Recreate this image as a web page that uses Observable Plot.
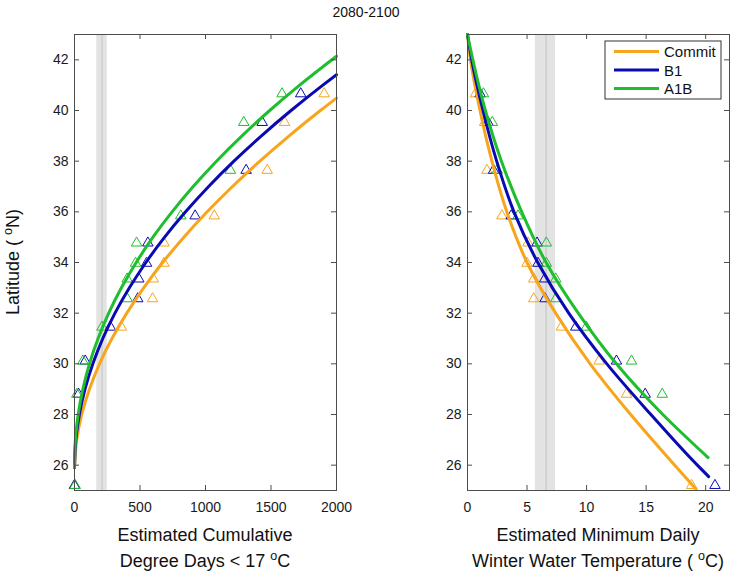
<!DOCTYPE html>
<html><head><meta charset="utf-8">
<script src="https://cdn.jsdelivr.net/npm/d3@7"></script>
<script src="https://cdn.jsdelivr.net/npm/@observablehq/plot@0.6"></script>
<style>
body{margin:0;background:#fff;}
#chart{position:relative;width:732px;height:576px;font-family:"Liberation Sans",Arial,sans-serif;}
#chart svg{position:absolute;top:0;overflow:visible;}
</style></head><body><div id="chart"></div>
<script>
// ---- data ----
const title = "2080-2100";
const scenarios = ["Commit", "B1", "A1B"];
const colors = ["#f8a51b", "#0a0ab2", "#1fbe2e"];
const latTicks = [26, 28, 30, 32, 34, 36, 38, 40, 42];
const latDomain = [25, 43];
const ddTicks = [0, 500, 1000, 1500, 2000];
const ddDomain = [0, 2000];
const tempTicks = [0, 5, 10, 15, 20];
const tempDomain = [0, 22];

// observed triangles
const latitudes = [40.66, 39.53, 37.64, 35.84, 34.77, 33.97, 33.35, 32.57, 31.45, 30.11, 28.8, 25.2];
const ddCommit = [1906, 1604, 1471, 1067, 683, 683, 602, 596, 358, null, null, 0];
const ddB1     = [1727, 1433, 1310, 921, 560, 550, 491, 483, 274, 82, 31, 0];
const ddA1B    = [1584, 1292, 1190, 811, 474, 466, 402, 402, 210, 64, 18, 5];
const tempCommit = [0.67, 1.44, 1.63, 2.89, 5.08, 4.99, 5.56, 5.56, 7.88, 11.05, 13.35, 18.82];
const tempB1     = [1.06, 1.72, 2.19, 3.67, 5.84, 5.92, 6.48, 6.51, 9.09, 12.51, 14.92, 20.78];
const tempA1B    = [1.34, 2.08, 2.50, 4.24, 6.62, 6.62, 7.41, 7.41, 9.98, 13.77, 16.35, null];

// fitted curves
const ddCurveLatCommit = [25.9, 27, 28, 29, 30, 31, 32, 33, 34, 35, 36, 37, 38, 39, 40, 40.49];
const ddCurveCommit    = [0, 17, 55, 114, 191, 286, 399, 528, 673, 835, 1013, 1206, 1415, 1639, 1877, 2000];
const ddCurveLatB1 = [25.9, 27, 28, 29, 30, 31, 32, 33, 34, 35, 36, 37, 38, 39, 40, 41, 41.41];
const ddCurveB1    = [0, 10, 37, 80, 140, 216, 309, 419, 545, 688, 848, 1024, 1217, 1427, 1653, 1896, 2000];
const ddCurveLatA1B = [25.9, 27, 28, 29, 30, 31, 32, 33, 34, 35, 36, 37, 38, 39, 40, 41, 42.14];
const ddCurveA1B    = [0, 7, 28, 64, 114, 180, 261, 358, 471, 599, 745, 906, 1084, 1279, 1490, 1719, 2000];

const tempCurveLatCommit = [43, 42, 40, 38, 36, 34, 32, 30, 28, 26, 25.05];
const tempCurveCommit    = [0, 0.25, 1.05, 2.05, 3.3, 5.0, 7.4, 10.3, 13.7, 17.4, 19.2];
const tempCurveLatB1 = [43, 42, 40, 38, 36, 34, 32, 30, 28, 26, 25.55];
const tempCurveB1    = [0, 0.35, 1.3, 2.45, 3.9, 5.9, 8.5, 11.7, 15.4, 19.3, 20.25];
const tempCurveLatA1B = [43, 42, 40, 38, 36, 34, 32, 30, 28, 26.3];
const tempCurveA1B    = [0, 0.45, 1.5, 2.85, 4.55, 6.6, 9.3, 12.5, 16.4, 20.2];

// reference bands (grey) with centre line
const ddBand = [170, 250];
const ddBandCenter = [210];
const tempBand = [5.7, 7.4];
const tempBandCenter = [6.6];

// ---- build ----
const FONT = '"Liberation Sans", Arial, sans-serif';
const AXIS = "#4d4d4d";
const W = 366, H = 520, MT = 34, MB = 30;

function zipPts(xs, ys) { return xs.map((x, i) => ({x, y: ys[i]})); }

function panel({xDomain, xTicks, band, bandCenter, obs, curves, marginLeft, marginRight}) {
  const innerW = W - marginLeft - marginRight, innerH = H - MT - MB;
  const marks = [
    Plot.rect([band], {x1: d => d[0], x2: d => d[1], fill: "#e3e3e3"}),
    Plot.ruleX(bandCenter, {stroke: "#c2c2c2", strokeWidth: 1})
  ];
  obs.forEach((vals, i) => {
    marks.push(Plot.dot(zipPts(vals, latitudes), {x: "x", y: "y", symbol: "triangle", r: 3.9,
      stroke: colors[i], fill: "none", strokeWidth: 1}));
  });
  curves.forEach(([xs, ys], i) => {
    marks.push(Plot.line(zipPts(xs, ys), {x: "x", y: "y", stroke: colors[i], strokeWidth: 3, curve: "monotone-y"}));
  });
  marks.push(
    Plot.frame({stroke: AXIS}),
    Plot.tickX(xTicks, {x: d => d, insetTop: innerH - 5, stroke: AXIS}),
    Plot.tickX(xTicks, {x: d => d, insetBottom: innerH - 5, stroke: AXIS}),
    Plot.tickY(latTicks, {y: d => d, insetLeft: innerW - 5, stroke: AXIS}),
    Plot.tickY(latTicks, {y: d => d, insetRight: innerW - 5, stroke: AXIS}),
    Plot.axisX(xTicks, {tickSize: 0, tickPadding: 12, label: null, fill: "#1a1a1a", tickFormat: d => String(d)}),
    Plot.axisY(latTicks, {tickSize: 0, tickPadding: 6, label: null, fill: "#1a1a1a", tickFormat: d => String(d)})
  );
  return Plot.plot({
    width: W, height: H, marginTop: MT, marginBottom: MB, marginLeft, marginRight,
    style: {fontFamily: FONT, fontSize: "14px", background: "transparent", overflow: "visible"},
    x: {domain: xDomain, label: null},
    y: {domain: latDomain, label: null},
    marks
  });
}

const chart = document.getElementById("chart");
const left = panel({xDomain: ddDomain, xTicks: ddTicks, band: ddBand, bandCenter: ddBandCenter,
  obs: [ddCommit, ddB1, ddA1B],
  curves: [[ddCurveCommit, ddCurveLatCommit], [ddCurveB1, ddCurveLatB1], [ddCurveA1B, ddCurveLatA1B]],
  marginLeft: 74, marginRight: 30});
left.style.left = "0px";
const right = panel({xDomain: tempDomain, xTicks: tempTicks, band: tempBand, bandCenter: tempBandCenter,
  obs: [tempCommit, tempB1, tempA1B],
  curves: [[tempCurveCommit, tempCurveLatCommit], [tempCurveB1, tempCurveLatB1], [tempCurveA1B, tempCurveLatA1B]],
  marginLeft: 101, marginRight: 3});
right.style.left = "366px";
chart.appendChild(left);
chart.appendChild(right);

// ---- text overlay: title, axis labels, legend ----
const ov = d3.select(chart).append("svg").attr("width", 732).attr("height", 576)
  .style("left", "0px").style("pointer-events", "none")
  .attr("font-family", FONT).attr("fill", "#111");

ov.append("text").attr("x", 366).attr("y", 17).attr("text-anchor", "middle")
  .attr("font-size", 14).text(title);

function richText(sel, parts) {
  parts.forEach(p => {
    if (typeof p === "string") sel.append("tspan").text(p);
    else sel.append("tspan").attr("baseline-shift", "super").attr("font-size", "70%").text(p.sup);
  });
  return sel;
}
richText(ov.append("text").attr("transform", "translate(19,262) rotate(-90)")
  .attr("text-anchor", "middle").attr("font-size", 18), ["Latitude ( ", {sup: "o"}, "N)"]);

const xl = [
  {cx: 205, lines: [["Estimated Cumulative"], ["Degree Days < 17 ", {sup: "o"}, "C"]]},
  {cx: 598, lines: [["Estimated Minimum Daily"], ["Winter Water Temperature ( ", {sup: "o"}, "C)"]]}
];
xl.forEach(l => l.lines.forEach((parts, j) => {
  richText(ov.append("text").attr("x", l.cx).attr("y", 541 + j * 26)
    .attr("text-anchor", "middle").attr("font-size", 18), parts);
}));

const lg = ov.append("g");
lg.append("rect").attr("x", 605).attr("y", 41).attr("width", 116).attr("height", 58)
  .attr("fill", "#fff").attr("stroke", "#333").attr("stroke-width", 1);
scenarios.forEach((s, i) => {
  const y = 51.5 + i * 18.5;
  lg.append("line").attr("x1", 614).attr("x2", 659).attr("y1", y).attr("y2", y)
    .attr("stroke", colors[i]).attr("stroke-width", 3);
  lg.append("text").attr("x", 664).attr("y", y + 5.5).attr("font-size", 15).text(s);
});
</script></body></html>
